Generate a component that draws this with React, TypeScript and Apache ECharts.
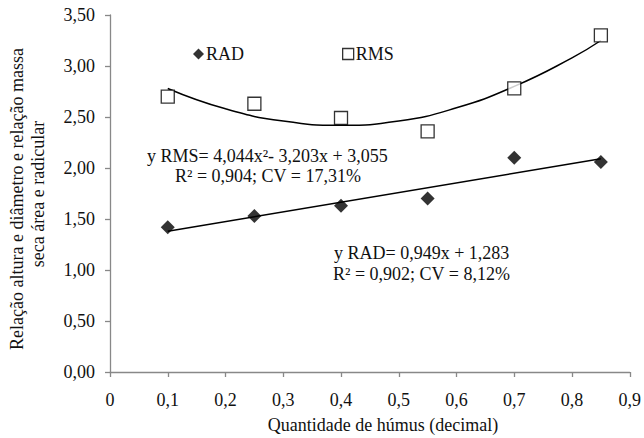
import React, { useEffect, useRef } from "react";
import * as echarts from "echarts";

const xTicks = [0, 0.1, 0.2, 0.3, 0.4, 0.5, 0.6, 0.7, 0.8, 0.9];
const humus = [0.1, 0.25, 0.4, 0.55, 0.7, 0.85];
const radValues = [1.42, 1.53, 1.63, 1.70, 2.10, 2.06];
const rmsValues = [2.70, 2.63, 2.49, 2.36, 2.78, 3.30];
// trend lines as drawn on the picture
const radTrendX = [0.1, 0.85];
const radTrendY = [1.38, 2.09];
const rmsTrendX = [0.1, 0.2, 0.3, 0.4, 0.5, 0.6, 0.7, 0.8, 0.85];
const rmsTrendY = [2.78, 2.58, 2.46, 2.42, 2.46, 2.59, 2.80, 3.08, 3.25];

const rmsEq = "y RMS= 4,044x²- 3,203x + 3,055";
const rmsStats = "R² = 0,904; CV = 17,31%";
const radEq = "y RAD= 0,949x + 1,283";
const radStats = "R² = 0,902; CV = 8,12%";
const yTitle1 = "Relação altura e diâmetro e relação massa";
const yTitle2 = "seca área e radicular";
const xTitle = "Quantidade de húmus (decimal)";

const FONT = "Liberation Serif";
const FS = 18;

export default function App() {
  const ref = useRef<HTMLDivElement>(null);
  useEffect(() => {
    if (!ref.current) return;
    const chart = echarts.init(ref.current, undefined, { renderer: "svg" });
    const fmt = (v: number, d: number) => v.toFixed(d).replace(".", ",");
    const txt = (text: string, x: number, y: number, extra: any = {}) => ({
      type: "text",
      x,
      y,
      ...extra,
      style: {
        text,
        fontFamily: FONT,
        fontSize: FS,
        fill: "#111",
        align: extra.align || "left",
        verticalAlign: "middle",
      },
    });
    chart.setOption({
      animation: false,
      backgroundColor: "#fff",
      textStyle: { fontFamily: FONT },
      grid: { left: 110, right: 12, top: 15, bottom: 66, containLabel: false },
      legend: {
        left: 188,
        top: 40,
        itemGap: 98,
        itemWidth: 11,
        itemHeight: 11,
        itemStyle: { borderWidth: 0 },
        textStyle: { fontFamily: FONT, fontSize: FS, color: "#111", padding: [0, 0, 0, -3] },
        data: [
          { name: "RAD", icon: "diamond", itemStyle: { color: "#000" } },
          {
            name: "RMS",
            icon: "rect",
            itemStyle: { color: "#fff", borderColor: "#000", borderWidth: 1.3 },
          },
        ],
      },
      xAxis: {
        type: "value",
        min: xTicks[0],
        max: xTicks[xTicks.length - 1],
        interval: 0.1,
        axisLine: { lineStyle: { color: "#888", width: 1.3 } },
        axisTick: { show: true, length: 5, lineStyle: { color: "#888", width: 1.3 } },
        splitLine: { show: false },
        axisLabel: {
          margin: 19,
          fontFamily: FONT,
          fontSize: FS,
          color: "#111",
          formatter: (v: number) => (Math.abs(v) < 1e-9 ? "0" : fmt(v, 1)),
        },
      },
      yAxis: {
        type: "value",
        min: 0,
        max: 3.5,
        interval: 0.5,
        axisLine: { show: true, lineStyle: { color: "#888", width: 1.3 } },
        axisTick: { show: true, length: 5, lineStyle: { color: "#888", width: 1.3 } },
        splitLine: { show: false },
        axisLabel: {
          margin: 15,
          fontFamily: FONT,
          fontSize: FS,
          color: "#111",
          formatter: (v: number) => fmt(v, 2),
        },
      },
      graphic: [
        txt(yTitle1, 17, 199, { rotation: Math.PI / 2, align: "center" }),
        txt(yTitle2, 38, 194, { rotation: Math.PI / 2, align: "center" }),
        txt(xTitle, 383, 425, { align: "center" }),
        txt(rmsEq, 147, 156),
        txt(rmsStats, 175, 176),
        txt(radEq, 334, 253),
        txt(radStats, 333, 274),
      ],
      series: [
        {
          name: "RAD trend",
          type: "line",
          data: radTrendX.map((x, i) => [x, radTrendY[i]]),
          showSymbol: false,
          symbol: "none",
          lineStyle: { color: "#000", width: 1.5 },
          z: 1,
        },
        {
          name: "RMS trend",
          type: "line",
          data: rmsTrendX.map((x, i) => [x, rmsTrendY[i]]),
          showSymbol: false,
          symbol: "none",
          smooth: true,
          lineStyle: { color: "#000", width: 1.5 },
          z: 1,
        },
        {
          name: "RAD",
          type: "scatter",
          data: humus.map((x, i) => [x, radValues[i]]),
          symbol: "diamond",
          symbolSize: 14,
          itemStyle: { color: "#000" },
          z: 3,
        },
        {
          name: "RMS",
          type: "scatter",
          data: humus.map((x, i) => [x, rmsValues[i]]),
          symbol: "rect",
          symbolSize: 13,
          itemStyle: { color: "#fff", borderColor: "#000", borderWidth: 1.3 },
          z: 3,
        },
      ],
    });
    return () => chart.dispose();
  }, []);
  return <div ref={ref} style={{ width: 644, height: 438, position: "absolute", left: 0, top: 0 }} />;
}
